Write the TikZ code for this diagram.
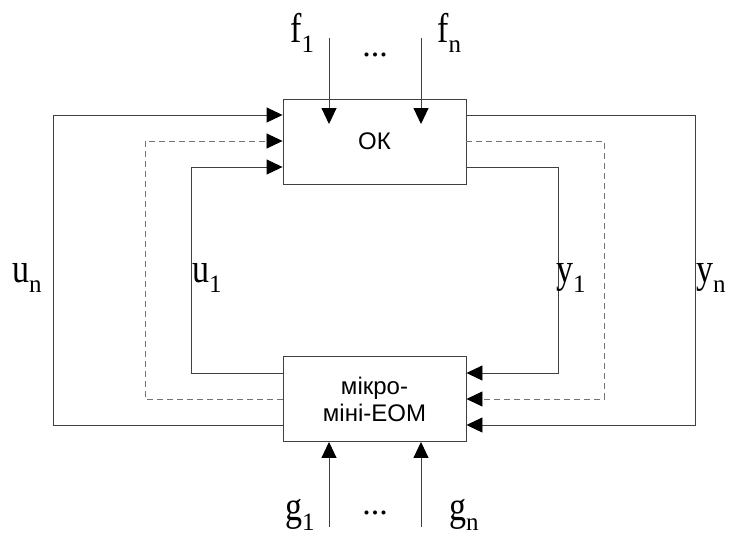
\documentclass[tikz,border=0pt]{standalone}
\usepackage{fontspec}
\setmainfont{Liberation Serif}
\newfontfamily\boxfont{Liberation Sans}
\usetikzlibrary{arrows.meta}
\newcommand\lbtxt[2]{\scalebox{1}[1.22]{#1}\raisebox{-10pt}{\fontsize{25}{25}\selectfont #2}}
\tikzset{
  ln/.style={draw=black!75, line width=0.9pt},
  arr/.style={ln, -{Triangle[length=16pt,width=15pt,color=black]}},
  dsh/.style={draw=black!55, line width=0.8pt, dash pattern=on 6pt off 4pt},
  darr/.style={dsh, -{Triangle[length=16pt,width=15pt,color=black]}},
  blk/.style={draw=black!75, line width=0.9pt, minimum width=183pt, minimum height=85pt, inner sep=0pt, font=\boxfont\fontsize{24}{27}\selectfont, align=center},
  lbl/.style={inner sep=0pt, font=\fontsize{34}{34}\selectfont}
}
\begin{document}
\begin{tikzpicture}[x=1pt,y=-1pt]
\useasboundingbox (0,0) rectangle (730,536);
\node[blk] (ok) at (374.5,141.5) {ОК};
\node[blk] (eom) at (374.5,399) {мікро-\\міні-ЕОМ};
% left feedback (u)
\draw[arr] (eom.west|-0,425) -| (53,115) -- (ok.west|-0,115);
\draw[darr] (eom.west|-0,399) -| (145,141) -- (ok.west|-0,141);
\draw[arr] (eom.west|-0,373) -| (191,167) -- (ok.west|-0,167);
% right feedback (y)
\draw[arr] (ok.east|-0,115) -| (695,425) -- (eom.east|-0,425);
\draw[darr] (ok.east|-0,141) -| (604,399) -- (eom.east|-0,399);
\draw[arr] (ok.east|-0,167) -| (558,373) -- (eom.east|-0,373);
% disturbances
\coordinate (f1) at (329,38);
\coordinate (fn) at (421,38);
\draw[arr] (f1) -- (329,124);
\draw[arr] (fn) -- (421,124);
\coordinate (g1) at (329,527);
\coordinate (gn) at (421,527);
\draw[arr] (g1) -- (eom.south-|g1);
\draw[arr] (gn) -- (eom.south-|gn);
% labels
\node[lbl, anchor=base west] (lf1) at (290,42) {\lbtxt{f}{1}};
\node[lbl, anchor=base] (ldf) at (375,56) {...};
\node[lbl, anchor=base west] (lfn) at (437,42) {\lbtxt{f}{n}};
\node[lbl, anchor=base west] (lg1) at (285,520) {\lbtxt{g}{1}};
\node[lbl, anchor=base] (ldg) at (375,514) {...};
\node[lbl, anchor=base west] (lgn) at (449,520) {\lbtxt{g}{n}};
\node[lbl, anchor=base west] (lun) at (12,282) {\lbtxt{u}{n}};
\node[lbl, anchor=base west] (lu1) at (192,282) {\lbtxt{u}{1}};
\node[lbl, anchor=base west] (ly1) at (556,282) {\lbtxt{y}{1}};
\node[lbl, anchor=base west] (lyn) at (696,282) {\lbtxt{y}{n}};
\end{tikzpicture}
\end{document}
